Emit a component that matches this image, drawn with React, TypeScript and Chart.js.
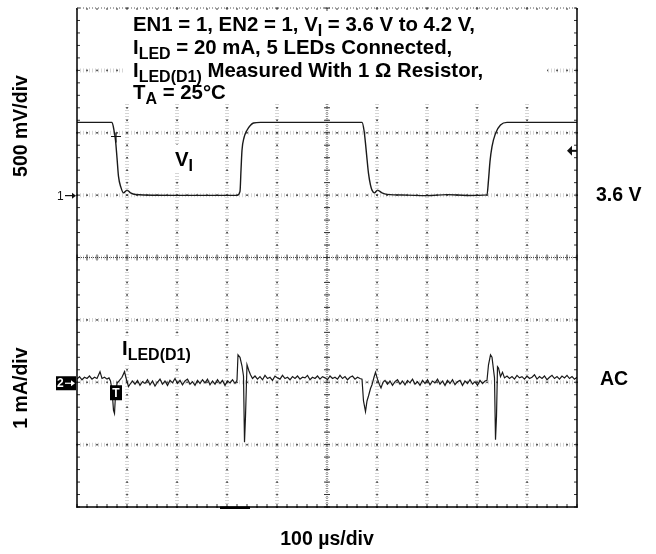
import React, { useEffect, useRef } from 'react';
import { Chart, registerables } from 'chart.js';

Chart.register(...registerables);

const W = 656;
const H = 554;

// Time base: 100 µs/div, 10 divisions
const timeMin = 0;
const timeMax = 1000;
const timePerDiv = 100;
// Channel 1: 500 mV/div, reference marker at 3.6 V
const ch1Min = 1.1;
const ch1Max = 5.1;
const ch1PerDiv = 0.5;
const ch1Ref = 3.6;
// Channel 2: 1 mA/div, AC coupled, reference at 0 mA
const ch2Min = -2;
const ch2Max = 6;
const ch2Ref = 0;

// Trigger
const triggerTime = 78;
const triggerCrossV = 4.07;
const triggerLevelV = 3.955;
const delayMarkStart = 286;
const delayMarkEnd = 346;

// V_I trace (µs, V)
const vinTime = [0, 70, 74, 77, 80, 83, 88, 93, 100, 107, 117, 200, 320, 326, 328, 330, 334, 340, 347, 353, 367,
  570, 574, 577, 580, 583, 587, 590, 595, 601, 610, 620, 660, 700, 740, 780, 820, 823, 826, 830, 837, 847, 860, 1000];
const vinVolts = [4.183, 4.183, 4.12, 4.04, 3.9, 3.75, 3.66, 3.618, 3.64, 3.618, 3.605, 3.598, 3.598, 3.63, 3.8, 3.96, 4.06, 4.12, 4.16, 4.178, 4.183,
  4.183, 4.12, 4.015, 3.89, 3.774, 3.68, 3.64, 3.618, 3.64, 3.618, 3.606, 3.6, 3.596, 3.604, 3.597, 3.602, 3.72, 3.87, 3.988, 4.095, 4.162, 4.183, 4.183];

// I_LED(D1) trace (µs, mA, AC)
const iledTime = [0, 5, 10, 15, 20, 25, 30, 35, 40, 46, 50, 55, 60, 64,
  67, 70, 73, 75, 77, 80, 85, 90, 95, 99, 103, 107,
  111, 116, 121, 126, 131, 136, 141, 146, 151, 156, 161, 166, 171, 176, 181, 186, 191, 196, 201, 206, 211, 216, 221, 226,
  231, 236, 241, 246, 251, 256, 261, 266, 271, 276, 281, 286, 291, 296, 301, 306, 311, 316,
  320, 322, 326, 330, 333, 335, 337, 340, 344, 347,
  351, 356, 361, 366, 371, 376, 381, 386, 391, 396, 401, 406, 411, 416, 421, 426, 431, 436, 441, 446, 451, 456, 461, 466,
  471, 476, 481, 486, 491, 496, 501, 506, 511, 516, 521, 526, 531, 536, 541, 546, 551, 556, 561, 566,
  570, 573, 577, 580, 583, 587, 590, 594, 597, 601, 605, 608, 612,
  616, 621, 626, 631, 636, 641, 646, 651, 656, 661, 666, 671, 676, 681, 686, 691, 696, 701, 706, 711, 716, 721, 726, 731,
  736, 741, 746, 751, 756, 761, 766, 771, 776, 781, 786, 791, 796, 801, 806, 811, 816,
  820, 823, 827, 830, 833, 835, 837, 839, 841, 843, 847, 851, 855,
  860, 865, 870, 875, 880, 885, 890, 895, 900, 905, 910, 915, 920, 925, 930, 935, 940, 945, 950, 955, 960, 965, 970, 975,
  980, 985, 990, 995, 1000];
const iledMilliamps = [0.05, 0.09, 0.04, 0.08, 0.06, 0.1, 0.05, 0.08, 0.06, 0.17, 0.06, 0.08, 0.05, 0.07,
  0.02, -0.12, -0.45, -0.5, -0.2, -0.02, 0.03, 0.08, 0.17, 0.04, -0.07, -0.02,
  0.02, -0.03, 0.03, -0.05, 0.01, -0.02, 0.04, -0.04, 0.02, -0.06, 0.0, 0.05, -0.03, 0.02, -0.05, 0.03, -0.01, 0.06, -0.02, 0.03, -0.04, 0.02, 0.05, -0.03,
  0.01, -0.05, 0.03, -0.02, 0.04, -0.01, 0.05, -0.04, 0.02, -0.03, 0.04, -0.02, 0.03, -0.05, 0.02, -0.01, 0.04, -0.02,
  0.03, 0.44, 0.4, 0.26, 0.1, -0.96, -0.55, 0.28, 0.18, 0.12,
  0.06, 0.1, 0.05, 0.09, 0.04, 0.11, 0.06, 0.08, 0.03, 0.1, 0.07, 0.05, 0.11, 0.06, 0.08, 0.04, 0.09, 0.06, 0.1, 0.05, 0.08, 0.07, 0.11, 0.04,
  0.08, 0.06, 0.1, 0.05, 0.09, 0.07, 0.04, 0.1, 0.06, 0.08, 0.05, 0.11, 0.06, 0.09, 0.04, 0.08, 0.1, 0.05, 0.08, 0.06,
  0.05, -0.3, -0.47, -0.3, -0.22, -0.1, -0.04, 0.08, 0.16, 0.05, -0.04, -0.09, 0.0,
  0.03, -0.03, 0.02, -0.05, 0.01, 0.04, -0.03, 0.02, -0.04, 0.03, -0.01, 0.05, -0.03, 0.01, -0.05, 0.03, -0.02, 0.04, -0.04, 0.02, -0.01, 0.05, -0.03, 0.02,
  -0.05, 0.03, -0.02, 0.04, -0.04, 0.01, 0.03, -0.05, 0.02, -0.02, 0.04, -0.03, 0.01, -0.05, 0.03, -0.02, 0.02,
  0.03, 0.28, 0.44, 0.4, 0.2, 0.07, -0.92, -0.55, 0.25, 0.23, 0.09, 0.16, 0.07,
  0.1, 0.06, 0.09, 0.05, 0.11, 0.07, 0.09, 0.05, 0.1, 0.06, 0.08, 0.12, 0.05, 0.09, 0.06, 0.1, 0.04, 0.08, 0.11, 0.06, 0.09, 0.05, 0.1, 0.07,
  0.11, 0.06, 0.09, 0.05, 0.08];

// Text
const titleLines: { t: string; sub?: boolean }[][] = [
  [{ t: 'EN1 = 1, EN2 = 1, V' }, { t: 'I', sub: true }, { t: ' = 3.6 V to 4.2 V,' }],
  [{ t: 'I' }, { t: 'LED', sub: true }, { t: ' = 20 mA, 5 LEDs Connected,' }],
  [{ t: 'I' }, { t: 'LED(D1)', sub: true }, { t: ' Measured With 1 \u03A9 Resistor,' }],
  [{ t: 'T' }, { t: 'A', sub: true }, { t: ' = 25\u00B0C' }],
];
const vinLabel = [{ t: 'V' }, { t: 'I', sub: true }];
const iledLabel = [{ t: 'I' }, { t: 'LED(D1)', sub: true }];
const ch1ScaleLabel = '500 mV/div';
const ch2ScaleLabel = '1 mA/div';
const ch1RefLabel = '3.6 V';
const ch2CouplingLabel = 'AC';
const timeScaleLabel = '100 \u00B5s/div';

const FONT = '"Liberation Sans", Arial, Helvetica, sans-serif';
const MAIN = 19.5;
const TITLE = 20.4;
const SUB = 16;

function drawRich(ctx: CanvasRenderingContext2D, segs: { t: string; sub?: boolean }[], x: number, y: number, size: number) {
  let cx = x;
  ctx.textAlign = 'left';
  ctx.textBaseline = 'alphabetic';
  for (const s of segs) {
    ctx.font = `bold ${s.sub ? SUB : size}px ${FONT}`;
    ctx.fillText(s.t, cx, s.sub ? y + 5 : y);
    cx += ctx.measureText(s.t).width;
  }
}

const scopePlugin = {
  id: 'scope',
  beforeDraw(chart: any) {
    const ctx = chart.ctx as CanvasRenderingContext2D;
    ctx.save();
    ctx.fillStyle = '#fff';
    ctx.fillRect(0, 0, W, H);
    ctx.restore();
  },
  beforeDatasetsDraw(chart: any) {
    const ctx = chart.ctx as CanvasRenderingContext2D;
    const a = chart.chartArea;
    const xs = chart.scales.x;
    const ys = chart.scales.y1;
    const vx: number[] = [];
    const hy: number[] = [];
    for (let i = 0; i <= 10; i++) vx.push(xs.getPixelForValue(timeMin + i * timePerDiv));
    for (let j = 0; j <= 8; j++) hy.push(ys.getPixelForValue(ch1Min + j * ch1PerDiv));
    ctx.save();
    // halo texture
    ctx.strokeStyle = '#d6d6d6';
    ctx.lineWidth = 4;
    ctx.setLineDash([1, 2]);
    for (let i = 1; i < 10; i++) {
      if (i === 5) continue;
      ctx.beginPath(); ctx.moveTo(vx[i], a.top); ctx.lineTo(vx[i], a.bottom); ctx.stroke();
    }
    for (let j = 1; j < 8; j++) {
      if (j === 4) continue;
      ctx.beginPath(); ctx.moveTo(a.left, hy[j]); ctx.lineTo(a.right, hy[j]); ctx.stroke();
    }
    ctx.setLineDash([]);
    // dots at minor positions
    ctx.fillStyle = '#3a3a3a';
    for (let i = 1; i < 10; i++) {
      if (i === 5) continue;
      for (let m = 0; m <= 40; m++) {
        const yy = ys.getPixelForValue(ch1Min + m * ch1PerDiv / 5);
        ctx.fillRect(vx[i] - 0.75, yy - 0.75, 1.6, 1.6);
      }
    }
    for (let j = 0; j < 8; j++) {
      if (j === 4) continue;
      for (let m = 0; m <= 50; m++) {
        const xx = xs.getPixelForValue(timeMin + m * timePerDiv / 5);
        ctx.fillRect(xx - 0.75, hy[j] - 0.75, 1.6, 1.6);
      }
    }
    // center cross, dense dotted with ticks
    const cx = vx[5];
    const cy = hy[4];
    ctx.strokeStyle = '#d6d6d6';
    ctx.lineWidth = 4;
    ctx.setLineDash([1, 2]);
    ctx.beginPath(); ctx.moveTo(a.left, cy); ctx.lineTo(a.right, cy); ctx.stroke();
    ctx.beginPath(); ctx.moveTo(cx, a.top); ctx.lineTo(cx, a.bottom); ctx.stroke();
    ctx.strokeStyle = '#4a4a4a';
    ctx.lineWidth = 1;
    ctx.setLineDash([1, 1]);
    ctx.beginPath(); ctx.moveTo(a.left, cy); ctx.lineTo(a.right, cy); ctx.stroke();
    ctx.beginPath(); ctx.moveTo(cx, a.top); ctx.lineTo(cx, a.bottom); ctx.stroke();
    ctx.setLineDash([]);
    ctx.strokeStyle = '#333';
    for (let m = 0; m <= 50; m++) {
      const xx = xs.getPixelForValue(timeMin + m * timePerDiv / 5);
      ctx.beginPath(); ctx.moveTo(xx, cy - 3); ctx.lineTo(xx, cy + 3); ctx.stroke();
      ctx.beginPath(); ctx.moveTo(xx, a.bottom); ctx.lineTo(xx, a.bottom - 3); ctx.stroke();
      ctx.beginPath(); ctx.moveTo(xx, a.top); ctx.lineTo(xx, a.top + 2); ctx.stroke();
    }
    for (let m = 0; m <= 40; m++) {
      const yy = ys.getPixelForValue(ch1Min + m * ch1PerDiv / 5);
      ctx.beginPath(); ctx.moveTo(cx - 3, yy); ctx.lineTo(cx + 3, yy); ctx.stroke();
      ctx.beginPath(); ctx.moveTo(a.left, yy); ctx.lineTo(a.left + 3, yy); ctx.stroke();
      ctx.beginPath(); ctx.moveTo(a.right, yy); ctx.lineTo(a.right - 3, yy); ctx.stroke();
    }
    // white backgrounds under labels
    ctx.fillStyle = '#fff';
    ctx.fillRect(125, 11, 422, 93);
    ctx.fillRect(170, 145, 28, 28);
    ctx.fillRect(119, 336, 80, 29);
    ctx.restore();
  },
  afterDatasetsDraw(chart: any) {
    const ctx = chart.ctx as CanvasRenderingContext2D;
    const a = chart.chartArea;
    const xs = chart.scales.x;
    const y1 = chart.scales.y1;
    const y2 = chart.scales.y2;
    ctx.save();
    // frame
    ctx.strokeStyle = '#000';
    ctx.lineWidth = 1.5;
    ctx.beginPath();
    ctx.moveTo(a.left, a.top); ctx.lineTo(a.left, a.bottom); ctx.lineTo(a.right, a.bottom); ctx.lineTo(a.right, a.top);
    ctx.stroke();
    ctx.strokeStyle = '#555';
    ctx.lineWidth = 1;
    ctx.setLineDash([1, 2]);
    ctx.beginPath(); ctx.moveTo(a.left, a.top); ctx.lineTo(a.right, a.top); ctx.stroke();
    ctx.setLineDash([]);
    // delay marker at bottom
    ctx.fillStyle = '#000';
    ctx.fillRect(xs.getPixelForValue(delayMarkStart), a.bottom - 0.5, xs.getPixelForValue(delayMarkEnd) - xs.getPixelForValue(delayMarkStart), 2.5);

    // trigger cross on V_I
    const tx = xs.getPixelForValue(triggerTime);
    const tyc = y1.getPixelForValue(triggerCrossV);
    ctx.strokeStyle = '#111';
    ctx.lineWidth = 1.2;
    ctx.beginPath(); ctx.moveTo(tx - 5, tyc); ctx.lineTo(tx + 5, tyc); ctx.moveTo(tx, tyc - 4); ctx.lineTo(tx, tyc + 6); ctx.stroke();

    // trigger level arrow on right
    const tly = y1.getPixelForValue(triggerLevelV);
    ctx.fillStyle = '#111';
    ctx.beginPath(); ctx.moveTo(a.right - 10, tly); ctx.lineTo(a.right - 5, tly - 5); ctx.lineTo(a.right - 5, tly + 5); ctx.closePath(); ctx.fill();
    ctx.fillRect(a.right - 6, tly - 1, 6, 2);

    // T box on ch2
    const r2 = y2.getPixelForValue(ch2Ref);
    ctx.fillStyle = '#000';
    ctx.fillRect(tx - 6, r2 + 3, 12, 15);
    ctx.fillStyle = '#fff';
    ctx.font = `bold 12px ${FONT}`;
    ctx.textAlign = 'center';
    ctx.textBaseline = 'alphabetic';
    ctx.fillText('T', tx, r2 + 15);

    // channel 1 marker
    const r1 = y1.getPixelForValue(ch1Ref);
    ctx.fillStyle = '#111';
    ctx.font = `12px ${FONT}`;
    ctx.textAlign = 'left';
    ctx.fillText('1', a.left - 20, r1 + 4.5);
    ctx.strokeStyle = '#111';
    ctx.lineWidth = 1.2;
    ctx.beginPath(); ctx.moveTo(a.left - 12, r1 + 0.5); ctx.lineTo(a.left - 3, r1 + 0.5); ctx.stroke();
    ctx.beginPath(); ctx.moveTo(a.left - 1, r1 + 0.5); ctx.lineTo(a.left - 5, r1 - 2.5); ctx.lineTo(a.left - 5, r1 + 3.5); ctx.closePath(); ctx.fill();

    // channel 2 marker
    ctx.fillStyle = '#000';
    ctx.fillRect(a.left - 21, r2 - 6, 20, 14);
    ctx.fillStyle = '#fff';
    ctx.strokeStyle = '#fff';
    ctx.font = `bold 12px ${FONT}`;
    ctx.fillText('2', a.left - 20, r2 + 5);
    ctx.beginPath(); ctx.moveTo(a.left - 12, r2 + 1); ctx.lineTo(a.left - 5, r2 + 1); ctx.stroke();
    ctx.beginPath(); ctx.moveTo(a.left - 2, r2 + 1); ctx.lineTo(a.left - 6, r2 - 2); ctx.lineTo(a.left - 6, r2 + 4); ctx.closePath(); ctx.fill();

    // labels
    ctx.fillStyle = '#000';
    const baselines = [31, 54, 77, 99];
    titleLines.forEach((ln, i) => drawRich(ctx, ln, 133, baselines[i], TITLE));
    drawRich(ctx, vinLabel, 175, 166, TITLE);
    drawRich(ctx, iledLabel, 122, 355, TITLE);

    ctx.font = `bold ${MAIN}px ${FONT}`;
    ctx.textAlign = 'left';
    ctx.fillText(ch1RefLabel, 596, r1 + 6);
    ctx.fillText(ch2CouplingLabel, 600, r2 + 3);
    ctx.textAlign = 'center';
    ctx.fillText(timeScaleLabel, (a.left + a.right) / 2, 545);

    ctx.save();
    ctx.translate(27, 126);
    ctx.rotate(-Math.PI / 2);
    ctx.fillText(ch1ScaleLabel, 0, 0);
    ctx.restore();
    ctx.save();
    ctx.translate(27, 388);
    ctx.rotate(-Math.PI / 2);
    ctx.fillText(ch2ScaleLabel, 0, 0);
    ctx.restore();
    ctx.restore();
  },
};

export default function App() {
  const ref = useRef<HTMLCanvasElement>(null);
  useEffect(() => {
    const chart = new Chart(ref.current as HTMLCanvasElement, {
      type: 'line',
      data: {
        datasets: [
          {
            label: 'V_I',
            data: vinTime.map((t, i) => ({ x: t, y: vinVolts[i] })),
            yAxisID: 'y1',
            borderColor: '#1a1a1a',
            borderWidth: 1.4,
            pointRadius: 0,
            cubicInterpolationMode: 'monotone',
            fill: false,
          },
          {
            label: 'I_LED(D1)',
            data: iledTime.map((t, i) => ({ x: t, y: iledMilliamps[i] })),
            yAxisID: 'y2',
            borderColor: '#1a1a1a',
            borderWidth: 1.2,
            pointRadius: 0,
            tension: 0,
            fill: false,
          },
        ],
      },
      options: {
        responsive: false,
        maintainAspectRatio: false,
        devicePixelRatio: 1,
        animation: false,
        events: [],
        layout: { padding: { left: 77, right: 79, top: 8, bottom: 47 } },
        plugins: { legend: { display: false }, tooltip: { enabled: false } },
        scales: {
          x: { type: 'linear', min: timeMin, max: timeMax, display: false },
          y1: { type: 'linear', min: ch1Min, max: ch1Max, display: false },
          y2: { type: 'linear', min: ch2Min, max: ch2Max, display: false },
        },
      },
      plugins: [scopePlugin],
    } as any);
    return () => chart.destroy();
  }, []);
  return (
    <div style={{ position: 'fixed', left: 0, top: 0, width: W, height: H, background: '#fff' }}>
      <canvas ref={ref} width={W} height={H} style={{ width: W, height: H, display: 'block' }} />
    </div>
  );
}
